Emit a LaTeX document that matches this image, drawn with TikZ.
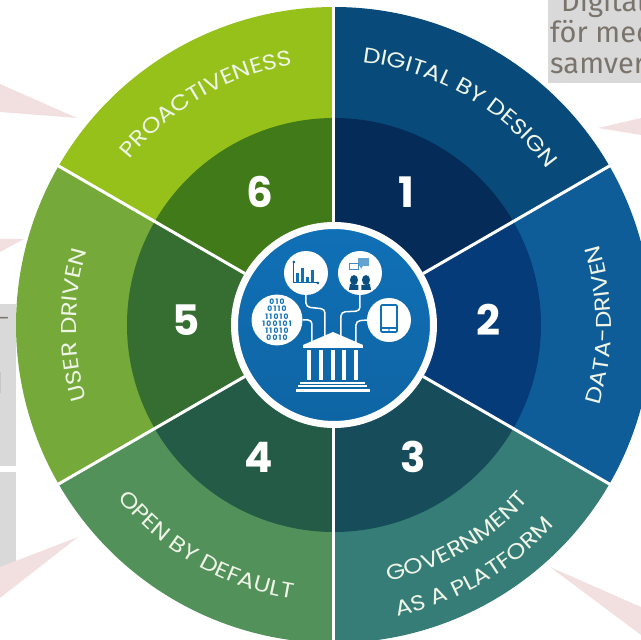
\documentclass[tikz,border=0pt]{standalone}
\usepackage{fontspec}
\setmainfont{Poppins}
\newfontfamily\noteFamily{Fira Sans}
\newfontfamily\labelFamily[FakeStretch=1.15]{Poppins}
\usepackage{tikz}
\usetikzlibrary{decorations.text}

\definecolor{OuterOne}{HTML}{084B7B}
\definecolor{InnerOne}{HTML}{052C58}
\definecolor{OuterTwo}{HTML}{0F5D98}
\definecolor{InnerTwo}{HTML}{053B79}
\definecolor{OuterThree}{HTML}{367D78}
\definecolor{InnerThree}{HTML}{174D5B}
\definecolor{OuterFour}{HTML}{52925A}
\definecolor{InnerFour}{HTML}{235B46}
\definecolor{OuterFive}{HTML}{75A939}
\definecolor{InnerFive}{HTML}{366D30}
\definecolor{OuterSix}{HTML}{96C11B}
\definecolor{InnerSix}{HTML}{417A18}
\definecolor{HubBlue}{HTML}{1070B6}
\definecolor{PaleRed}{HTML}{F2E0E0}
\definecolor{NoteGray}{HTML}{D9D9D9}
\definecolor{NoteText}{HTML}{7A746C}
\definecolor{LabelWhite}{HTML}{EEF4E6}

\newcommand{\LabelFont}{\labelFamily\fontsize{21.5}{24}\selectfont\color{LabelWhite}}

\tikzset{
    arclabel/.style={decorate, decoration={text along path, text align=center, text={|\LabelFont|#1}}},
    number/.style={text=white, font=\fontsize{42}{44}\selectfont\bfseries},
    notetext/.style={text=NoteText, anchor=base west, inner sep=0pt, font=\noteFamily\fontsize{29}{30}\selectfont},
    icon/.style={circle, fill=white, minimum size=44pt, inner sep=0pt},
    wire/.style={draw=white, line width=1.5pt, rounded corners=4pt},
    pointer/.style={fill=PaleRed},
    notebox/.style={fill=NoteGray},
}

\begin{document}
\begin{tikzpicture}[x=1pt, y=1pt]
    \useasboundingbox (-334,-315) rectangle (307,325);
    \clip (-334,-315) rectangle (307,325);

    % Leftovers behind the wheel
    \fill[notebox] (214,325) rectangle (307,242);
    \fill[notebox] (-334,21) rectangle (-318,-141);
    \fill[notebox] (-334,-147) rectangle (-318,-260);
    \fill[black!22] (-334,-47) rectangle (-333.4,-68);
    \node[text=NoteText, inner sep=0pt, font=\fontsize{20}{20}\selectfont] (NoteDash) at (-329.5,4) {-};
    \node[notetext] (NoteOne) at (227,313) {Digital};
    \node[notetext] (NoteTwo) at (216,282) {för med};
    \node[notetext] (NoteThree) at (216,251) {samver};

    % Pointers
    \fill[pointer] (-334,241) -- (-257,207) -- (-334,213) -- cycle;
    \fill[pointer] (-334,86) -- (-310,86) -- (-334,73) -- cycle;
    \fill[pointer] (264,197) -- (307,207) -- (307,190) -- cycle;
    \fill[pointer] (-256,-212) -- (-334,-242) -- (-334,-273) -- cycle;
    \fill[pointer] (216,-242) -- (307,-282) -- (307,-310) -- cycle;

    % Draw the two rings, one sector at a time
    \foreach \a/\o/\n in {90/OuterOne/InnerOne, 30/OuterTwo/InnerTwo, -30/OuterThree/InnerThree, -90/OuterFour/InnerFour, -150/OuterFive/InnerFive, -210/OuterSix/InnerSix} {
        \fill[\o] (0,0) -- (\a:318) arc[start angle=\a, delta angle=-60, radius=318] -- cycle;
        \fill[\n] (0,0) -- (\a:207) arc[start angle=\a, delta angle=-60, radius=207] -- cycle;
    }

    % Draw the hub
    \node[circle, draw=white, line width=7pt, top color=HubBlue, bottom color=HubBlue!90!black, minimum size=199pt, inner sep=0pt] (Hub) at (0,0) {};

    % Spokes between the sectors
    \foreach \a in {30, 90, 150, 210, 270, 330} {
        \coordinate (Rim\a) at (\a:320);
        \draw[white, line width=3pt] (Hub.\a) -- (Rim\a);
    }

    % Sector labels
    \path[arclabel={DIGITAL BY DESIGN}] (90:264) arc[start angle=90, end angle=30, radius=264];
    \path[arclabel={DATA-DRIVEN}] (-30:277) arc[start angle=-30, end angle=30, radius=277];
    \path[arclabel={GOVERNMENT}] (-90:262) arc[start angle=-90, end angle=-30, radius=262];
    \path[arclabel={AS A PLATFORM}] (-90:298) arc[start angle=-90, end angle=-30, radius=298];
    \path[arclabel={OPEN BY DEFAULT}] (-150:277) arc[start angle=-150, end angle=-90, radius=277];
    \path[arclabel={USER DRIVEN}] (210:258) arc[start angle=210, end angle=150, radius=258];
    \path[arclabel={PROACTIVENESS}] (150:263) arc[start angle=150, end angle=90, radius=263];

    % Sector numbers
    \node[number] (One) at (72,133) {1};
    \node[number] (Two) at (154,5) {2};
    \node[number] (Three) at (79,-132) {3};
    \node[number] (Four) at (-75,-132) {4};
    \node[number] (Five) at (-148,5) {5};
    \node[number] (Six) at (-74,133) {6};

    % Icons around the bank
    \node[icon] (Chart) at (-28,52) {};
    \node[icon] (Chat) at (26,52) {};
    \node[icon, align=center, text=HubBlue, font=\fontsize{7.5}{7.2}\selectfont\bfseries] (Bits) at (-57,5) {0\,1\,0\\0\,1\,1\,0\\1\,1\,0\,1\,0\\1\,0\,0\,1\,0\,1\\1\,1\,0\,1\,0\\0\,0\,1\,0};
    \node[icon] (Phone) at (55,5) {};

    % Bank building
    \fill[white] (-31,-20) -- (-1,-7) -- (29,-20) -- cycle;
    \fill[white] (-31,-20) rectangle (29,-23);
    \foreach \x in {-25, -13, -1, 10, 22}
        \fill[white] (\x-2,-25) rectangle (\x+2,-55);
    \fill[white] (-34,-57) rectangle (31,-59);
    \fill[white] (-36,-60) rectangle (33,-62);
    \fill[white] (-38,-64) rectangle (36,-67);

    % Where the wires land on the bank
    \coordinate (BankA) at (-22,-18);
    \coordinate (BankB) at (-9,-12);
    \coordinate (BankC) at (7,-12);
    \coordinate (BankD) at (22,-18);

    % Wires
    \draw[wire] (Chart.south) -- (-28,18) -- (-9,16) -- (BankB);
    \draw[wire] (Chat.south) -- (26,14) -- (7,13) -- (BankC);
    \draw[wire] (Bits.east) -- (-22,5) -- (BankA);
    \draw[wire] (Phone.west) -- (22,4) -- (BankD);

    % Chart icon
    \begin{scope}[shift={(Chart.center)}]
        \draw[HubBlue!85!black, line width=1pt] (-12,11) -- (-12,-10) -- (12,-10);
        \fill[HubBlue!85!black] (-12,11) circle (1.5pt) (12,-10) circle (1.5pt);
        \foreach \x/\h in {-8/0, -3/5, 2/-4, 7/3}
            \fill[HubBlue] (\x-1.5,-10) rectangle (\x+1.5,\h);
    \end{scope}

    % Chat icon
    \begin{scope}[shift={(Chat.center)}]
        \fill[HubBlue!65!white] (-2,15) rectangle (9,7);
        \fill[HubBlue!65!white] (0,7) -- (3,7) -- (1,4) -- cycle;
        \draw[HubBlue!80!white, line width=.7pt, fill=white] (-11,10) rectangle (-2,4);
        \foreach \s in {-1, 1} {
            \fill[HubBlue!70!black] (\s*6,-7) ellipse (4pt and 5pt);
            \fill[HubBlue!70!black] (\s*1.5,-17) -- (\s*1.5,-12) -- (\s*10,-11) -- (\s*11,-17) -- cycle;
        }
    \end{scope}

    % Phone icon
    \begin{scope}[shift={(Phone.center)}]
        \draw[HubBlue, line width=1.6pt, rounded corners=1pt] (-8,-12) rectangle (8,15);
        \draw[HubBlue, line width=1.6pt] (-8,-8) -- (8,-8);
        \fill[HubBlue] (0,-10) circle (.8pt);
    \end{scope}

\end{tikzpicture}
\end{document}
